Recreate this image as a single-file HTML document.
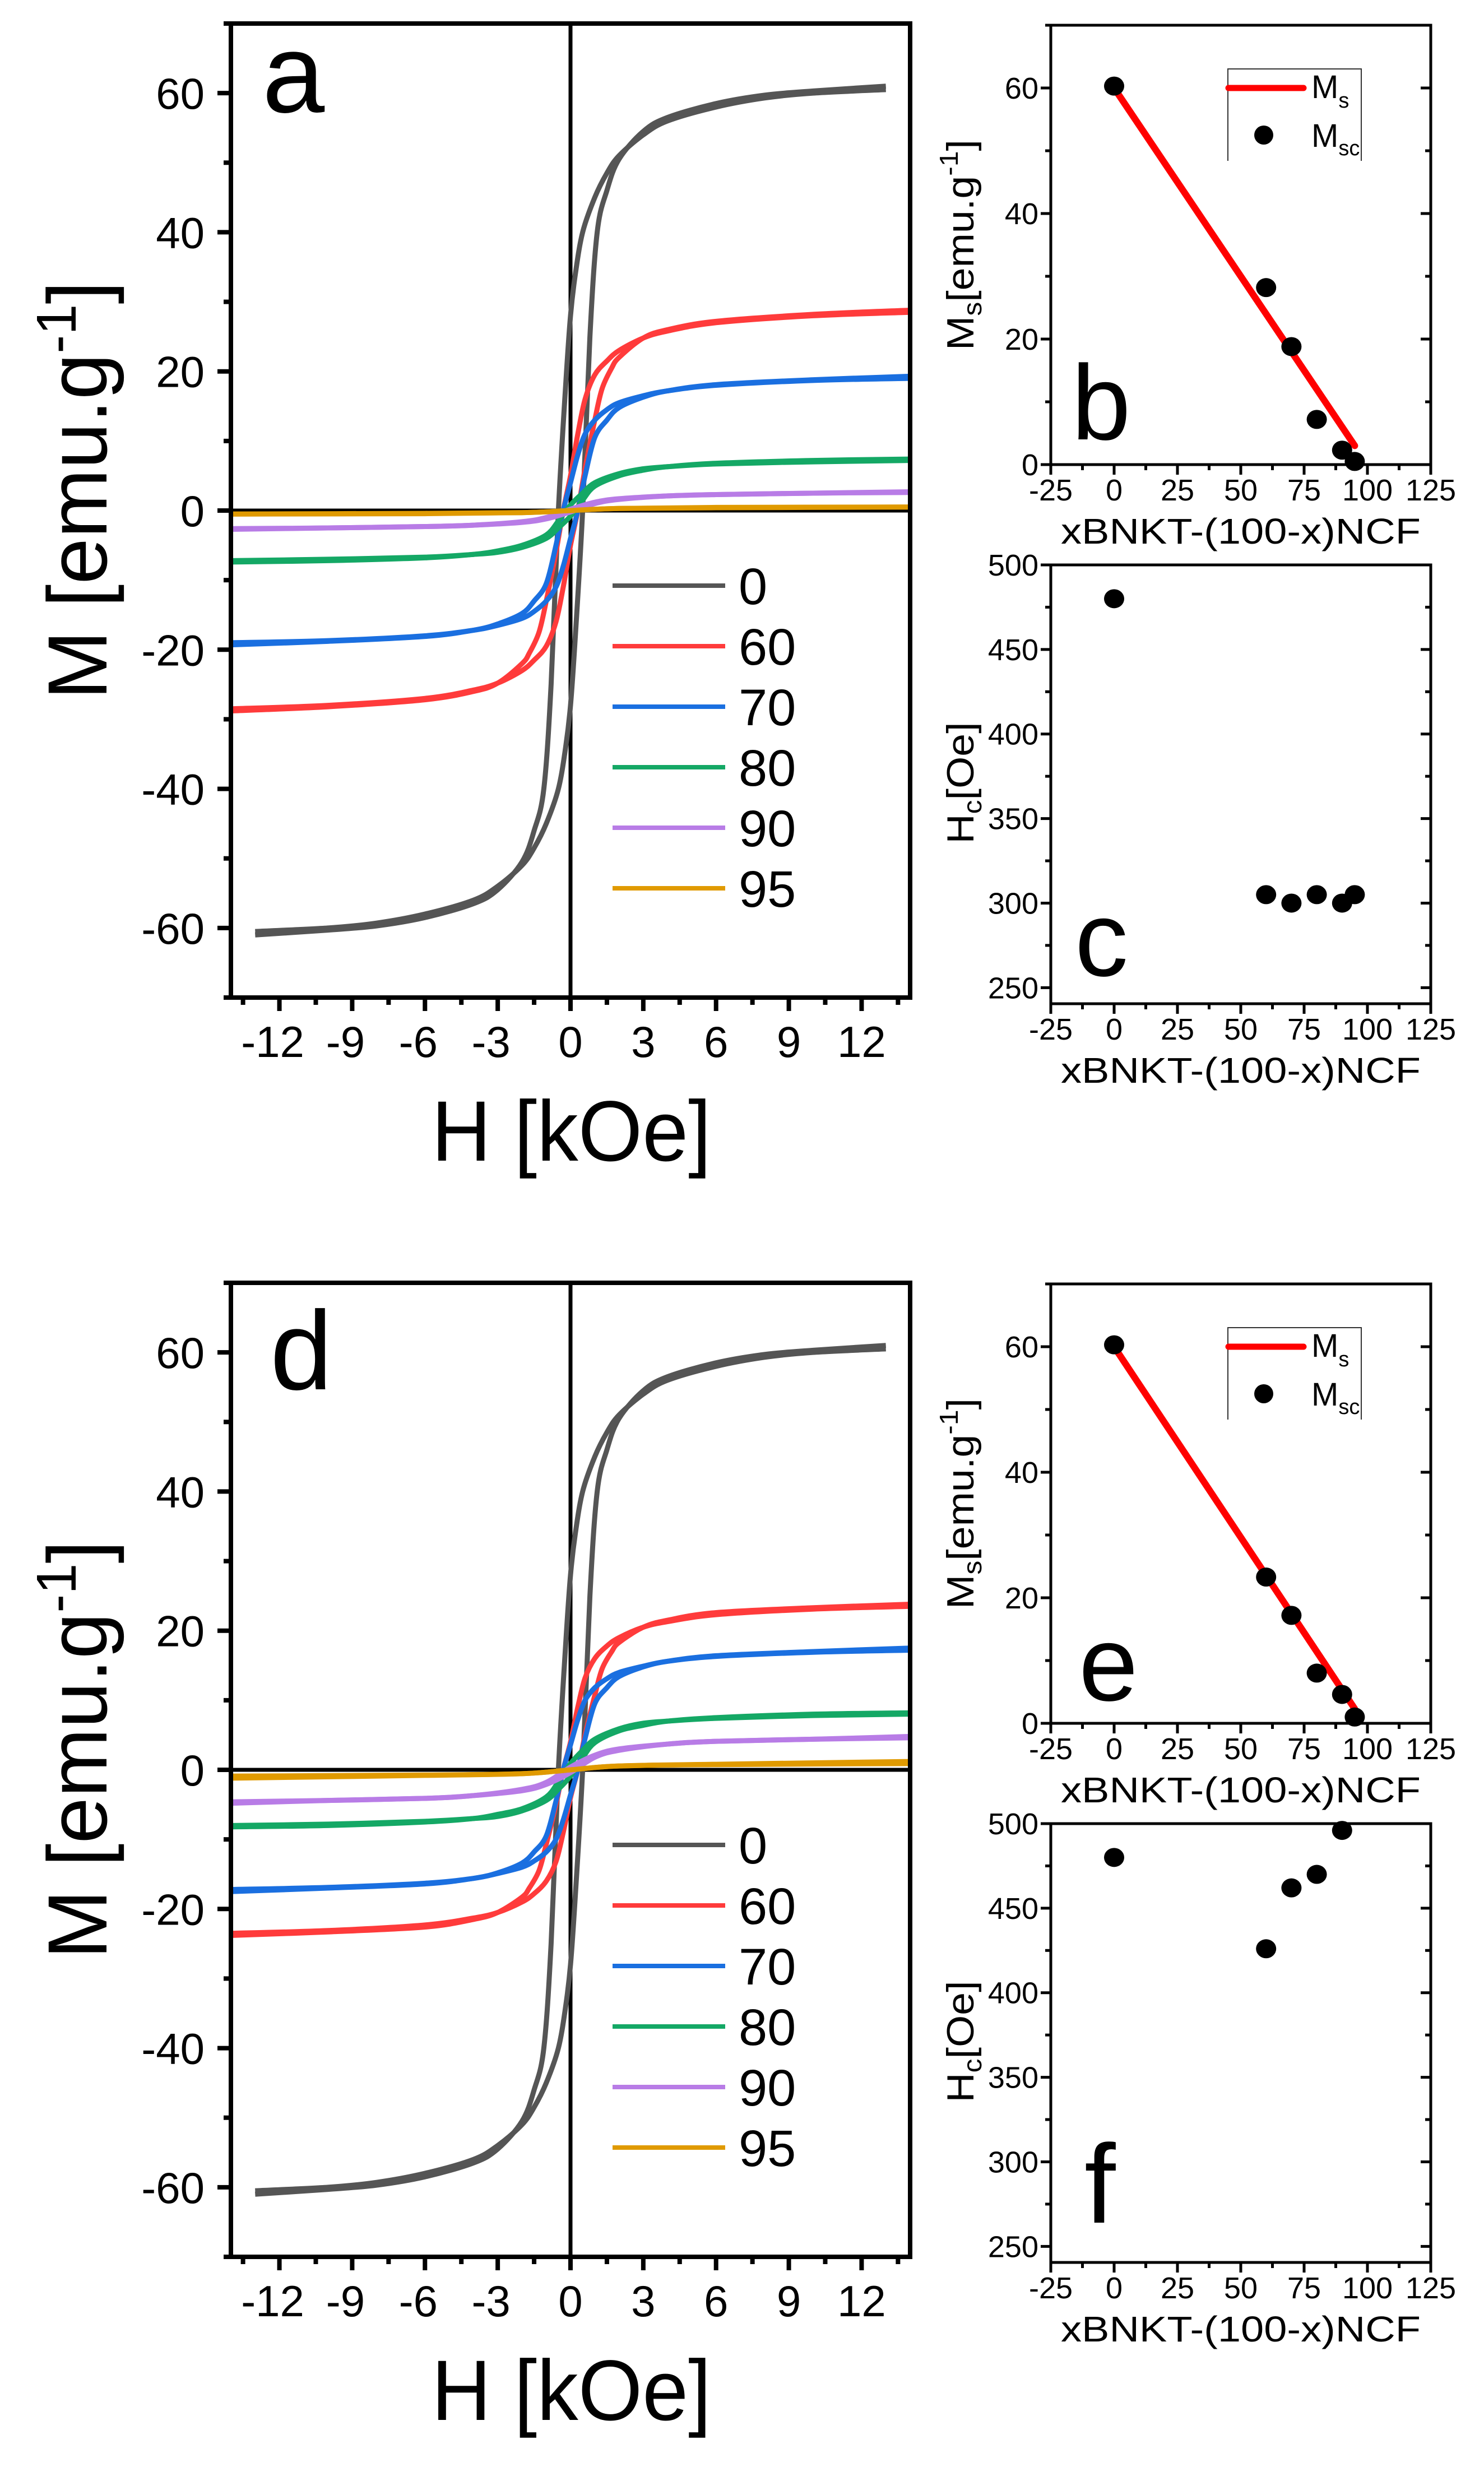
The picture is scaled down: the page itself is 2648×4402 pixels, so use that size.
<!DOCTYPE html>
<html><head><meta charset="utf-8"><style>
html,body{margin:0;padding:0;background:#fff;}
svg{display:block;}
text{font-family:"Liberation Sans",Arial,sans-serif;fill:#000;}
</style></head><body>
<svg id="fig" width="2648" height="4402" viewBox="0 0 2648 4402" xmlns="http://www.w3.org/2000/svg"></svg>
<script>
// ---------- data: hysteresis loops (descending branch H [kOe], M [emu/g]) ----------
const seriesLabels = ["0","60","70","80","90","95"];
const seriesColors = ["#555555","#ff3b3b","#1a6fe0","#14a865","#b87ce6","#e09a00"];
const H_0  = [13,10,8,6,4,3,2,1.5,1,0.5,0.2,0,-0.2,-0.5,-0.8,-1.1,-1.5,-2,-3,-4,-6,-8,-10,-13];
const Ma_0 = [60.5,60,59.3,58,56,54,51,48.5,45,40,34,28,18,0,-25,-40,-46,-50.5,-54.5,-56.5,-58.5,-59.7,-60.3,-61];
const H_60 = [14,10,6,4,3,2,1.5,1,0.6,0.3,0,-0.3,-0.6,-1,-1.3,-1.7,-2,-3,-4,-6,-10,-14];
const Ma_60= [28.5,28,27,25.8,24.8,23,21.5,19.5,16,11,5,0,-6,-13,-17.5,-20.5,-22,-24.8,-26,-27.2,-28.2,-28.8];
const Md_60= [23.5,23.1,22.3,21.3,20.5,19,17.8,16,13.2,9,4,0,-5,-10.7,-14.5,-17,-18.3,-20.5,-21.5,-22.6,-23.3,-23.8];
const H_70 = [14,10,6,4,3,2,1.5,1,0.6,0.3,0,-0.3,-0.6,-1,-1.5,-2,-3,-4,-6,-10,-14];
const Ma_70= [19,18.7,18,17.2,16.5,15.5,14.5,13,11,8,4,0,-5,-10.5,-13,-14.8,-16.3,-17.2,-18.1,-18.8,-19.3];
const Md_70= [17.2,16.9,16.3,15.6,14.9,14,13.1,11.8,10,7.2,3.6,0,-4.5,-9.5,-11.8,-13.4,-14.8,-15.6,-16.4,-17,-17.5];
const H_80 = [14,10,6,4,3,2,1,0.5,0,-0.5,-1,-2,-3,-4,-6,-10,-14];
const Ma_80= [7.2,7,6.7,6.3,6,5.3,4,2.5,0.8,-1.5,-3.5,-5,-5.8,-6.3,-6.8,-7.2,-7.4];
const Md_80= [8,7.8,7.4,7,6.7,5.9,4.4,2.8,0.9,-1.7,-3.9,-5.6,-6.4,-7,-7.5,-8,-8.2];
const H_90 = [14,10,6,4,2,1,0,-1,-2,-4,-6,-10,-14];
const Ma_90= [2.6,2.5,2.3,2.1,1.7,1.2,0.2,-1,-1.6,-2.1,-2.3,-2.5,-2.7];
const Md_90= [4.6,4.4,4.1,3.7,3,2.1,0.4,-1.8,-2.8,-3.7,-4.1,-4.4,-4.8];
const H_95 = [14,6,2,0,-2,-6,-14];
const Ma_95= [0.5,0.4,0.3,0,-0.3,-0.45,-0.5];
const Md_95= [0.9,0.75,0.55,0,-0.55,-0.8,-1.2];
// ---------- data: composition plots ----------
const compX   = [0,60,70,80,90,95];
const msc_b   = [60.3,28.2,18.8,7.2,2.3,0.5];
const hc_c    = [480,305,300,305,300,305];
const msc_e   = [60.3,23.3,17.2,8,4.6,1.0];
const compX_f = [0,60,70,80,90];
const hc_f    = [480,426,462,470,496];
const fitX    = [0,95];
const fitB    = [60,3];
const fitE    = [60,2.3];
const hTicks  = [-12,-9,-6,-3,0,3,6,9,12];
const mTicks  = [-60,-40,-20,0,20,40,60];
const xTicks  = [-25,0,25,50,75,100,125];
const msTicks = [0,20,40,60];
const hcTicks = [250,300,350,400,450,500];

const NS="http://www.w3.org/2000/svg";
const svg=document.getElementById('fig');
function el(tag,attrs,parent){const e=document.createElementNS(NS,tag);for(const k in attrs)e.setAttribute(k,attrs[k]);(parent||svg).appendChild(e);return e;}
function scale(d0,d1,r0,r1){return v=>r0+(v-d0)/(d1-d0)*(r1-r0);}
function smooth(pts){let d=`M${pts[0][0]},${pts[0][1]}`;for(let i=0;i<pts.length-1;i++){const p0=pts[i-1]||pts[i],p1=pts[i],p2=pts[i+1],p3=pts[i+2]||p2;
 const c1x=p1[0]+(p2[0]-p0[0])/6,c1y=p1[1]+(p2[1]-p0[1])/6,c2x=p2[0]-(p3[0]-p1[0])/6,c2y=p2[1]-(p3[1]-p1[1])/6;
 d+=`C${c1x},${c1y} ${c2x},${c2y} ${p2[0]},${p2[1]}`;}return d;}
function txt(s,x,y,size,opts,parent){const t=el('text',Object.assign({x:x,y:y,'font-size':size},opts||{}),parent);t.textContent=s;return t;}

function loopPanel(off,letter,sets){
 const g=el('g',{});
 
 
 const L=412,R=1624,T=42+off,B=1780+off;
 const sx=scale(-14,14,L,R), sy=scale(-70,70,B,T);
 el('line',{x1:sx(0),x2:sx(0),y1:T,y2:B,stroke:'#000','stroke-width':7},g);
 el('line',{x1:L,x2:R,y1:sy(0),y2:sy(0),stroke:'#000','stroke-width':7},g);
 [0,1,2,3,4,5].forEach(i=>{
  const [H,M]=sets[i];
  const desc=H.map((h,j)=>[sx(h),sy(M[j])]);
  const asc=H.map((h,j)=>[sx(-h),sy(-M[j])]);
  const p1=el('path',{d:smooth(desc),fill:'none',stroke:seriesColors[i],'stroke-width':9,'stroke-linejoin':'round'},g);
  
  
  const p2=el('path',{d:smooth(asc),fill:'none',stroke:seriesColors[i],'stroke-width':9,'stroke-linejoin':'round'},g);
  
  
 });
 el('rect',{x:L,y:T,width:R-L,height:B-T,fill:'none',stroke:'#000','stroke-width':8},g);
 for(let v=-70;v<=70;v+=10){const y=sy(v);const major=mTicks.includes(v);
  el('line',{x1:L-(major?24:13),x2:L,y1:y,y2:y,stroke:'#000','stroke-width':8},g);}
 mTicks.forEach(v=>{const t=txt(String(v),365,sy(v)+28,78,{'text-anchor':'end'},g);
  });
 for(let v=-13.5;v<=13.6;v+=1.5){const x=sx(v);const major=hTicks.includes(Math.round(v*10)/10);
  el('line',{x1:x,x2:x,y1:B,y2:B+(major?24:13),stroke:'#000','stroke-width':8},g);}
 hTicks.forEach(v=>{const t=txt(String(v),sx(v)-(v<0?12:0),1886+off,78,{'text-anchor':'middle'},g);
  });
 const yt=el('text',{x:0,y:0,'font-size':150,transform:`translate(190,${875+off}) rotate(-90)`,'text-anchor':'middle',textLength:747,lengthAdjust:'spacingAndGlyphs'},g);
 
 yt.innerHTML='M [emu.g<tspan dy="-55" font-size="100">-1</tspan><tspan dy="55">]</tspan>';
 const xt=txt('H [kOe]',770,2071+off,153,{textLength:499,lengthAdjust:'spacingAndGlyphs'},g);
 
 const pl=txt(letter,letter==='a'?468:482,(letter==='a'?200:232)+off,200,{},g);
 
 seriesLabels.forEach((s,i)=>{const y=1045+off+i*108;
  const lg=el('g',{},g);
  
  el('line',{x1:1093,x2:1294,y1:y,y2:y,stroke:seriesColors[i],'stroke-width':8},lg);
  txt(s,1318,y+33,92,{},lg);});
}

loopPanel(0,'a',[[H_0,Ma_0],[H_60,Ma_60],[H_70,Ma_70],[H_80,Ma_80],[H_90,Ma_90],[H_95,Ma_95]]);
loopPanel(2247,'d',[[H_0,Ma_0],[H_60,Md_60],[H_70,Md_70],[H_80,Md_80],[H_90,Md_90],[H_95,Md_95]]);

function compPanel(opt){
 const g=el('g',{});
 
 
 const L=1875,R=2553,T=opt.T,B=opt.B;
 const sx=scale(-25,125,L,R), sy=scale(opt.y0,opt.y1,B,T);
 if(opt.fit){const ln=el('line',{x1:sx(fitX[0]),y1:sy(opt.fit[0]),x2:sx(fitX[1]),y2:sy(opt.fit[1]),stroke:'#ff0000','stroke-width':12,'stroke-linecap':'round'},g);
  }
 opt.xs.forEach((x,i)=>{const c=el('ellipse',{cx:sx(x),cy:sy(opt.ys[i]),rx:18,ry:17,fill:'#000'},g);
  });
 el('rect',{x:L,y:T,width:R-L,height:B-T,fill:'none',stroke:'#000','stroke-width':5},g);
 opt.minorY.forEach(v=>{const y=sy(v);const major=opt.ticks.includes(v);const len=major?18:10;
  el('line',{x1:L-len,x2:L,y1:y,y2:y,stroke:'#000','stroke-width':5},g);
  el('line',{x1:R,x2:R-len,y1:y,y2:y,stroke:'#000','stroke-width':5},g);});
 opt.ticks.forEach(v=>{const t=txt(String(v),1853,sy(v)+19,54,{'text-anchor':'end'},g);
  });
 for(let v=-25;v<=125;v+=12.5){const x=sx(v);const major=xTicks.includes(v);
  el('line',{x1:x,x2:x,y1:B,y2:B+(major?18:10),stroke:'#000','stroke-width':5},g);}
 xTicks.forEach(v=>{const t=txt(String(v),sx(v),B+64,54,{'text-anchor':'middle'},g);
  });
 const xt=txt('xBNKT-(100-x)NCF',1893,B+141,64,{textLength:642,lengthAdjust:'spacingAndGlyphs'},g);
 
 const yt=el('text',{x:0,y:0,'font-size':68,transform:`translate(1737,${opt.titleY}) rotate(-90)`,'text-anchor':'middle',textLength:opt.titleLen,lengthAdjust:'spacingAndGlyphs'},g);
 
 yt.innerHTML=opt.titleHTML;
 const pl=txt(opt.letter,opt.lx,opt.ly,opt.letter==='f'?200:190,{},g);
 
 if(opt.legend){const off=opt.T-45;const lg=el('g',{},g);
  
  el('path',{d:`M2191,${off+287}V${off+123}H2429V${off+287}`,fill:'none',stroke:'#333','stroke-width':2},lg);
  el('line',{x1:2192,x2:2326,y1:off+157,y2:off+157,stroke:'#ff0000','stroke-width':11,'stroke-linecap':'round'},lg);
  const t1=txt('',2340,off+175,58,{},lg);t1.innerHTML='M<tspan dy="17" font-size="38">s</tspan>';
  el('ellipse',{cx:2255,cy:off+241,rx:17,ry:17,fill:'#000'},lg);
  const t2=txt('',2340,off+262,58,{},lg);t2.innerHTML='M<tspan dy="15" font-size="38">sc</tspan>';}
}
const minorMs=[0,10,20,30,40,50,60,70];
const minorHc=[250,275,300,325,350,375,400,425,450,475,500];
const msTitle='M<tspan dy="14" font-size="46">s</tspan><tspan dy="-14">[emu.g</tspan><tspan dy="-28" font-size="46">-1</tspan><tspan dy="28">]</tspan>';
const hcTitle='H<tspan dy="14" font-size="46">c</tspan><tspan dy="-14">[Oe]</tspan>';
compPanel({letter:'b',T:45,B:829,y0:0,y1:70,xs:compX,ys:msc_b,fit:fitB,ticks:msTicks,minorY:minorMs,titleY:437,titleLen:376,titleHTML:msTitle,lx:1912,ly:784,legend:true});
compPanel({letter:'c',T:1008,B:1791,y0:240.5,y1:500,xs:compX,ys:hc_c,fit:null,ticks:hcTicks,minorY:minorHc,titleY:1397,titleLen:217,titleHTML:hcTitle,lx:1918,ly:1741,legend:false});
compPanel({letter:'e',T:2291,B:3075,y0:0,y1:70,xs:compX,ys:msc_e,fit:fitE,ticks:msTicks,minorY:minorMs,titleY:2683,titleLen:376,titleHTML:msTitle,lx:1925,ly:3034,legend:true});
compPanel({letter:'f',T:3254,B:4037,y0:240.5,y1:500,xs:compX_f,ys:hc_f,fit:null,ticks:hcTicks,minorY:minorHc,titleY:3643,titleLen:217,titleHTML:hcTitle,lx:1935,ly:3966,legend:false});
</script>
</body></html>
